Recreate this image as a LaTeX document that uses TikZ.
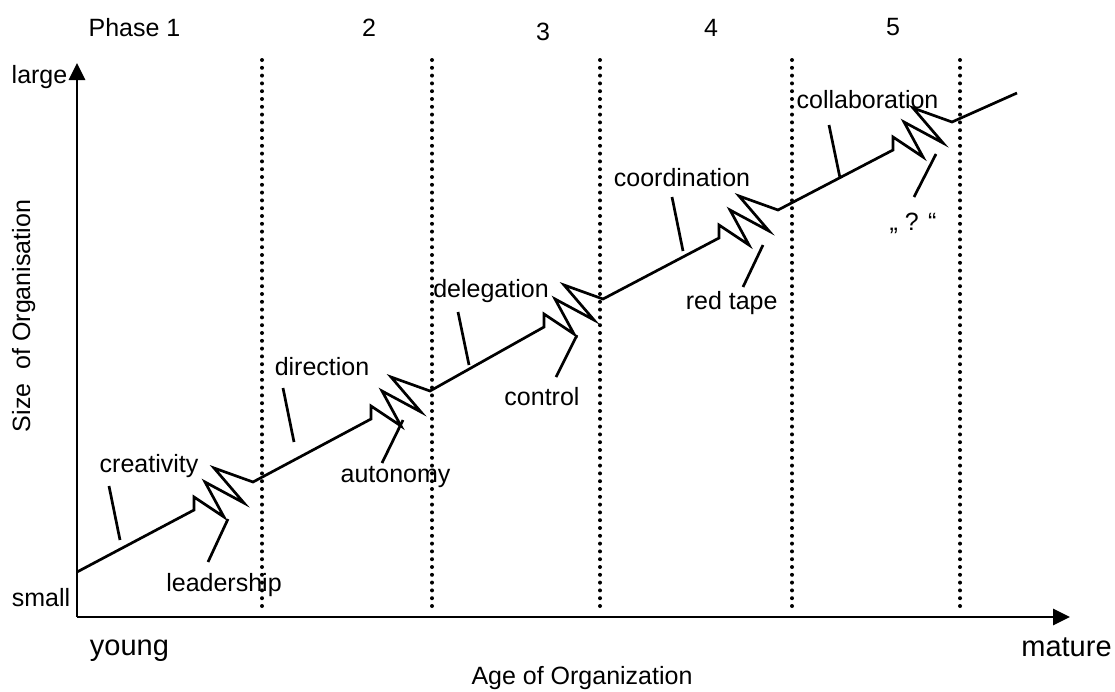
\documentclass[tikz,border=0pt]{standalone}
\usepackage{fontspec}
\setmainfont{Liberation Sans}
\usetikzlibrary{arrows.meta}
\begin{document}
\begin{tikzpicture}[x=1pt,y=-1pt,
  lbl/.style={anchor=base, inner sep=0pt, font=\fontsize{25}{30}\selectfont},
  big/.style={anchor=base, inner sep=0pt, font=\fontsize{29}{34}\selectfont},
  growth/.style={line width=2.7pt, line join=miter},
  pointer/.style={line width=2.7pt},
  axis/.style={line width=2.8pt, -{Triangle[length=17pt,width=16pt]}},
  phase/.style={line width=4pt, line cap=round, dash pattern=on 0pt off 7.8pt}]
\useasboundingbox (0,0) rectangle (1115,691);

% axes
\coordinate (O) at (77,617);
\coordinate (ytop) at (77,63);
\coordinate (xend) at (1070,617);
\draw[axis] (O) -- (ytop);
\draw[axis] (O) -- (xend);

% phase boundaries
\foreach \x/\n in {262/1,432/2,600/3,792/4,960/5}{
  \coordinate (t\n) at (\x,60);
  \coordinate (b\n) at (\x,612);
  \draw[phase] (t\n) -- (b\n);
}

% growth line with revolutions (zigzags)
\coordinate (s0) at (77,572);
\coordinate (z1) at (194,510); \coordinate (e1) at (253,482);
\coordinate (z2) at (371,419); \coordinate (e2) at (430,391);
\coordinate (z3) at (544,327); \coordinate (e3) at (603,299);
\coordinate (z4) at (719,238); \coordinate (e4) at (778,210);
\coordinate (z5) at (893,150); \coordinate (e5) at (952,122);
\coordinate (fin) at (1017,93);
\draw[growth] (s0) -- (z1) -- +(0,-13) -- +(30,7) -- +(11,-28) -- +(50,-7) -- +(20,-42) -- (e1)
  -- (z2) -- +(0,-13) -- +(30,7) -- +(11,-28) -- +(50,-7) -- +(20,-42) -- (e2)
  -- (z3) -- +(0,-13) -- +(30,7) -- +(11,-28) -- +(50,-7) -- +(20,-42) -- (e3)
  -- (z4) -- +(0,-13) -- +(30,7) -- +(11,-28) -- +(50,-7) -- +(20,-42) -- (e4)
  -- (z5) -- +(0,-13) -- +(30,7) -- +(11,-28) -- +(50,-7) -- +(20,-42) -- (e5)
  -- (fin);

% pointer strokes
\foreach \n/\a/\b in {cre/{109,486}/{120,540}, lea/{228,519}/{208,562},
  dir/{283,388}/{294,442}, aut/{403,420}/{382,463},
  del/{458,312}/{469,365}, con/{577,335}/{556,377},
  coo/{672,197}/{683,251}, red/{763,245}/{743,287},
  col/{829,125}/{840,178}, que/{936,154}/{914,197}}{
  \coordinate (\n a) at (\a);
  \coordinate (\n b) at (\b);
  \draw[pointer] (\n a) -- (\n b);
}

% labels
\node[lbl] (creativity) at (149,472) {creativity};
\node[lbl] (leadership) at (224,591) {leadership};
\node[lbl] (direction) at (322,375) {direction};
\node[lbl] (autonomy) at (395.5,482) {autonomy};
\node[lbl] (delegation) at (491,297) {delegation};
\node[lbl] (control) at (542,405) {control};
\node[lbl] (coordination) at (682,186) {coordination};
\node[lbl] (redtape) at (731.7,309) {red tape};
\node[lbl] (collaboration) at (867.5,108) {collaboration};
\node[lbl] (question) at (913,230) {„ ? “};

\node[lbl] (p1) at (134.5,36) {Phase 1};
\node[lbl] (p2) at (369,36) {2};
\node[lbl] (p3) at (543,40) {3};
\node[lbl] (p4) at (711,36) {4};
\node[lbl] (p5) at (893,35) {5};

\node[lbl] (large) at (39.5,83) {large};
\node[lbl] (small) at (41,606) {small};
\node[big] (young) at (129.5,655) {young};
\node[big] (mature) at (1066.5,656) {mature};
\node[lbl] (xlabel) at (582,684) {Age of Organization};
\node[lbl, rotate=90] (ylabel) at (30,316) {Size\ \ of Organisation};
\end{tikzpicture}
\end{document}
